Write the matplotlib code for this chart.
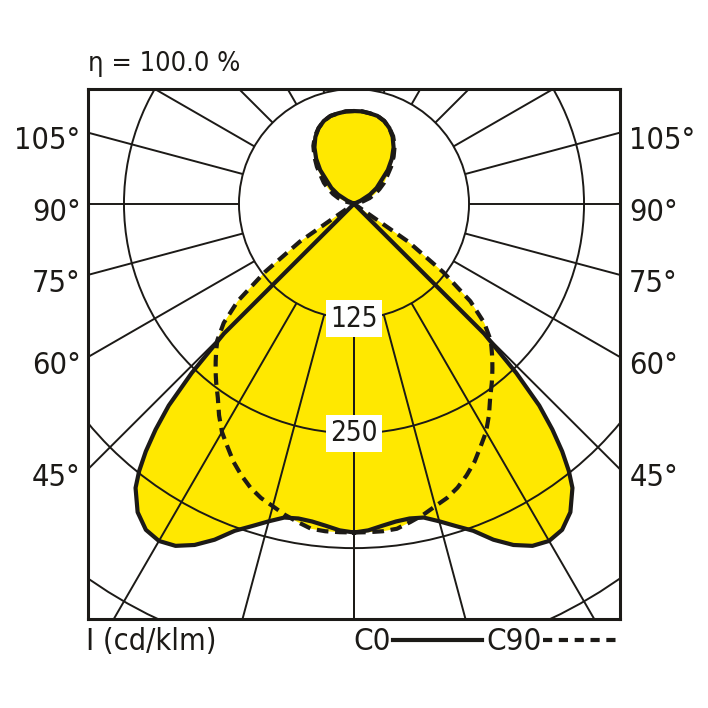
import numpy as np
import matplotlib
matplotlib.use("Agg")
import matplotlib.pyplot as plt
from matplotlib.patches import Circle
from matplotlib.lines import Line2D

plt.rcParams["font.family"] = ["DejaVu Sans"]
plt.rcParams["font.stretch"] = "condensed"

# ================= DATA ================= #
# gamma = angle from nadir (deg), intensities in cd/klm
gamma = [0, 2.5, 5, 7.5, 10, 12.5, 15, 17.5, 20, 22.5, 25, 27.5, 30, 32.5, 35, 37.5,
         38.75, 40, 41.25, 42.5, 43.75, 45, 47.5, 50, 52.5, 55, 57.5, 60, 65, 70, 75,
         80, 85, 90, 95, 100, 105, 110, 115, 120, 125, 130, 135, 140, 145, 150, 155,
         160, 165, 170, 175, 180]

i_c0 = [358, 356, 352, 349, 348, 350, 358, 368, 379, 396, 410, 420, 424, 421, 410, 390,
        373, 352, 327, 298, 255, 200, 0, 0, 0, 0, 0, 0, 0, 0, 0,
        0, 0, 0, 0, 0, 0, 0, 8, 20, 30, 38, 52, 64, 75, 84, 91,
        96, 99, 100, 101, 101]

i_c90 = [358, 358, 358, 357, 352, 347, 341, 336, 329, 320, 310, 298, 287, 273, 258, 246,
         240, 234, 228, 222, 216, 210, 192, 165, 122, 72, 0, 0, 0, 0, 0,
         0, 0, 0, 0, 0, 10, 18, 25, 32, 40, 47, 57, 67, 77, 85, 91,
         96, 99, 100, 101, 101]

rings = [125, 250, 375, 500]
ring_labels = ["125", "250"]
angle_ticks = [45, 60, 75, 90, 105]
spoke_angles = list(range(0, 181, 15))

title = "η = 100.0 %"
unit_label = "I (cd/klm)"
series_names = ["C0", "C90"]

# ================= SETTINGS ================= #
YELLOW = "#ffe800"
INK = "#1c1a17"
XL = 289.1
YTOP, YBOT = 125, -452.2


def to_xy(g, i):
    g = np.radians(np.asarray(g, float))
    i = np.asarray(i, float)
    x = i * np.sin(g)
    y = -i * np.cos(g)
    # mirror to the other half
    return np.concatenate([x, -x[::-1]]), np.concatenate([y, y[::-1]])


fig = plt.figure(figsize=(7.08, 7.08), dpi=100)
ax = fig.add_axes([88 / 708, 89 / 708, 532 / 708, 530 / 708])
ax.set_xlim(-XL, XL)
ax.set_ylim(YBOT, YTOP)
ax.set_xticks([])
ax.set_yticks([])
for s in ax.spines.values():
    s.set_linewidth(2.2)
    s.set_color(INK)
    s.set_zorder(6)

x0, y0 = to_xy(gamma, i_c0)
x90, y90 = to_xy(gamma, i_c90)

# ================= FILL ================= #
ax.fill(x0, y0, color=YELLOW, lw=0, zorder=1)
ax.fill(x90, y90, color=YELLOW, lw=0, zorder=1)

# ================= GRID ================= #
for r in rings:
    ax.add_patch(Circle((0, 0), r, fill=False, ec=INK, lw=1.4, zorder=2))
for a in spoke_angles:
    t = np.radians(a)
    for sgn in (1, -1):
        ax.plot([sgn * rings[0] * np.sin(t), sgn * 800 * np.sin(t)],
                [-rings[0] * np.cos(t), -800 * np.cos(t)],
                color=INK, lw=1.4, zorder=2, solid_capstyle="butt")

# ================= CURVES ================= #
ax.plot(x0, y0, color=INK, lw=3.0, zorder=4, solid_joinstyle="round")
ax.plot(x90, y90, color=INK, lw=3.0, zorder=4, dashes=(2.8, 1.6))

for r, lab in zip(rings, ring_labels):
    ax.text(0, -r, lab, ha="center", va="center", fontsize=20, color=INK, zorder=5,
            bbox=dict(facecolor="white", edgecolor="none", pad=3))

# ================= ANGLE LABELS ================= #
for a in angle_ticks:
    yy = -XL / np.tan(np.radians(a)) - 9
    ax.text(-XL - 8, yy, f"{a}°", ha="right", va="center", fontsize=22, color=INK, clip_on=False)
    ax.text(XL + 10, yy, f"{a}°", ha="left", va="center", fontsize=22, color=INK, clip_on=False)

# ================= TEXTS ================= #
fig.text(88 / 708, 1 - 64 / 708, title, ha="left", va="center", fontsize=19.5, color=INK)
fig.text(86 / 708, 1 - 642 / 708, unit_label, ha="left", va="center", fontsize=22, color=INK)
fig.text(353 / 708, 1 - 642 / 708, series_names[0], ha="left", va="center", fontsize=22.5, color=INK)
fig.text(486 / 708, 1 - 642 / 708, series_names[1], ha="left", va="center", fontsize=22.5, color=INK)
fig.add_artist(Line2D([393 / 708, 482 / 708], [1 - 640 / 708] * 2, color=INK, lw=3.0))
fig.add_artist(Line2D([543 / 708, 617 / 708], [1 - 640 / 708] * 2, color=INK, lw=3.0,
                      dashes=(2.2, 1.6)))

fig.savefig("out.png", dpi=100, facecolor="white")
